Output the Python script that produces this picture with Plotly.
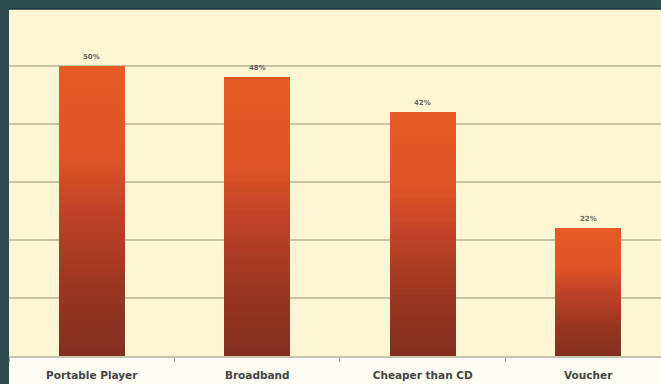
import plotly.graph_objects as go

categories = ["Portable Player", "Broadband", "Cheaper than CD", "Voucher"]
values = [50, 48, 42, 22]
value_labels = ["50%", "48%", "42%", "22%"]

# gradient stops (fraction of bar height from bottom -> colour)
N_SEG = 40
def seg_color(f):
    stops = [(0.0, (0x82, 0x2f, 0x1f)), (0.25, (0x9a, 0x36, 0x22)),
             (0.5, (0xc0, 0x43, 0x28)), (0.7, (0xe0, 0x55, 0x27)),
             (1.0, (0xe6, 0x5a, 0x26))]
    for (f0, c0), (f1, c1) in zip(stops[:-1], stops[1:]):
        if f0 <= f <= f1:
            t = (f - f0) / (f1 - f0)
            c = [round(a + (b - a) * t) for a, b in zip(c0, c1)]
            return "rgb(%d,%d,%d)" % tuple(c)
    return "rgb(230,90,38)"

fig = go.Figure()
for i in range(N_SEG):
    f = (i + 0.5) / N_SEG
    fig.add_trace(go.Bar(
        x=categories, y=[v / N_SEG for v in values],
        marker=dict(color=seg_color(f), line=dict(width=0)),
        width=0.4, hoverinfo="skip", showlegend=False,
    ))

annotations = [
    dict(x=c, y=v, text="<b>%s</b>" % t, showarrow=False, yanchor="bottom",
         yshift=3, font=dict(family="DejaVu Sans", size=7, color="#666666"))
    for c, v, t in zip(categories, values, value_labels)
]

fig.update_layout(
    width=661, height=384,
    margin=dict(l=9, r=0, t=9, b=28),
    paper_bgcolor="#2f4c52",
    plot_bgcolor="#fcf6d4",
    barmode="stack", bargap=0.6,
    annotations=annotations,
    xaxis=dict(
        type="category", range=[-0.5, 3.44],
        tickmode="array", tickvals=categories,
        ticktext=["<b>%s</b>" % c for c in categories],
        tickfont=dict(family="DejaVu Sans", size=10.5, color="#444444"),
        tickson="boundaries", ticks="outside", ticklen=4, tickcolor="#aaaaaa",
        showline=True, linecolor="#c8c3ad", linewidth=1.5,
        showgrid=False, ticklabelstandoff=9,
    ),
    yaxis=dict(
        range=[0, 59.8], tickvals=[10, 20, 30, 40, 50],
        showticklabels=False, showgrid=True, gridcolor="#c9c3a6",
        gridwidth=1.5, zeroline=False,
    ),
    shapes=[
        dict(type="rect", xref="paper", yref="paper", x0=0, x1=1,
             y0=-28 / 347, y1=0, fillcolor="#fdfcf5", line=dict(width=0),
             layer="below"),
        dict(type="line", xref="paper", yref="paper", x0=0, x1=1,
             y0=1, y1=1, line=dict(color="#1e3034", width=1.5)),
    ],
)

fig.write_html("out.html")
